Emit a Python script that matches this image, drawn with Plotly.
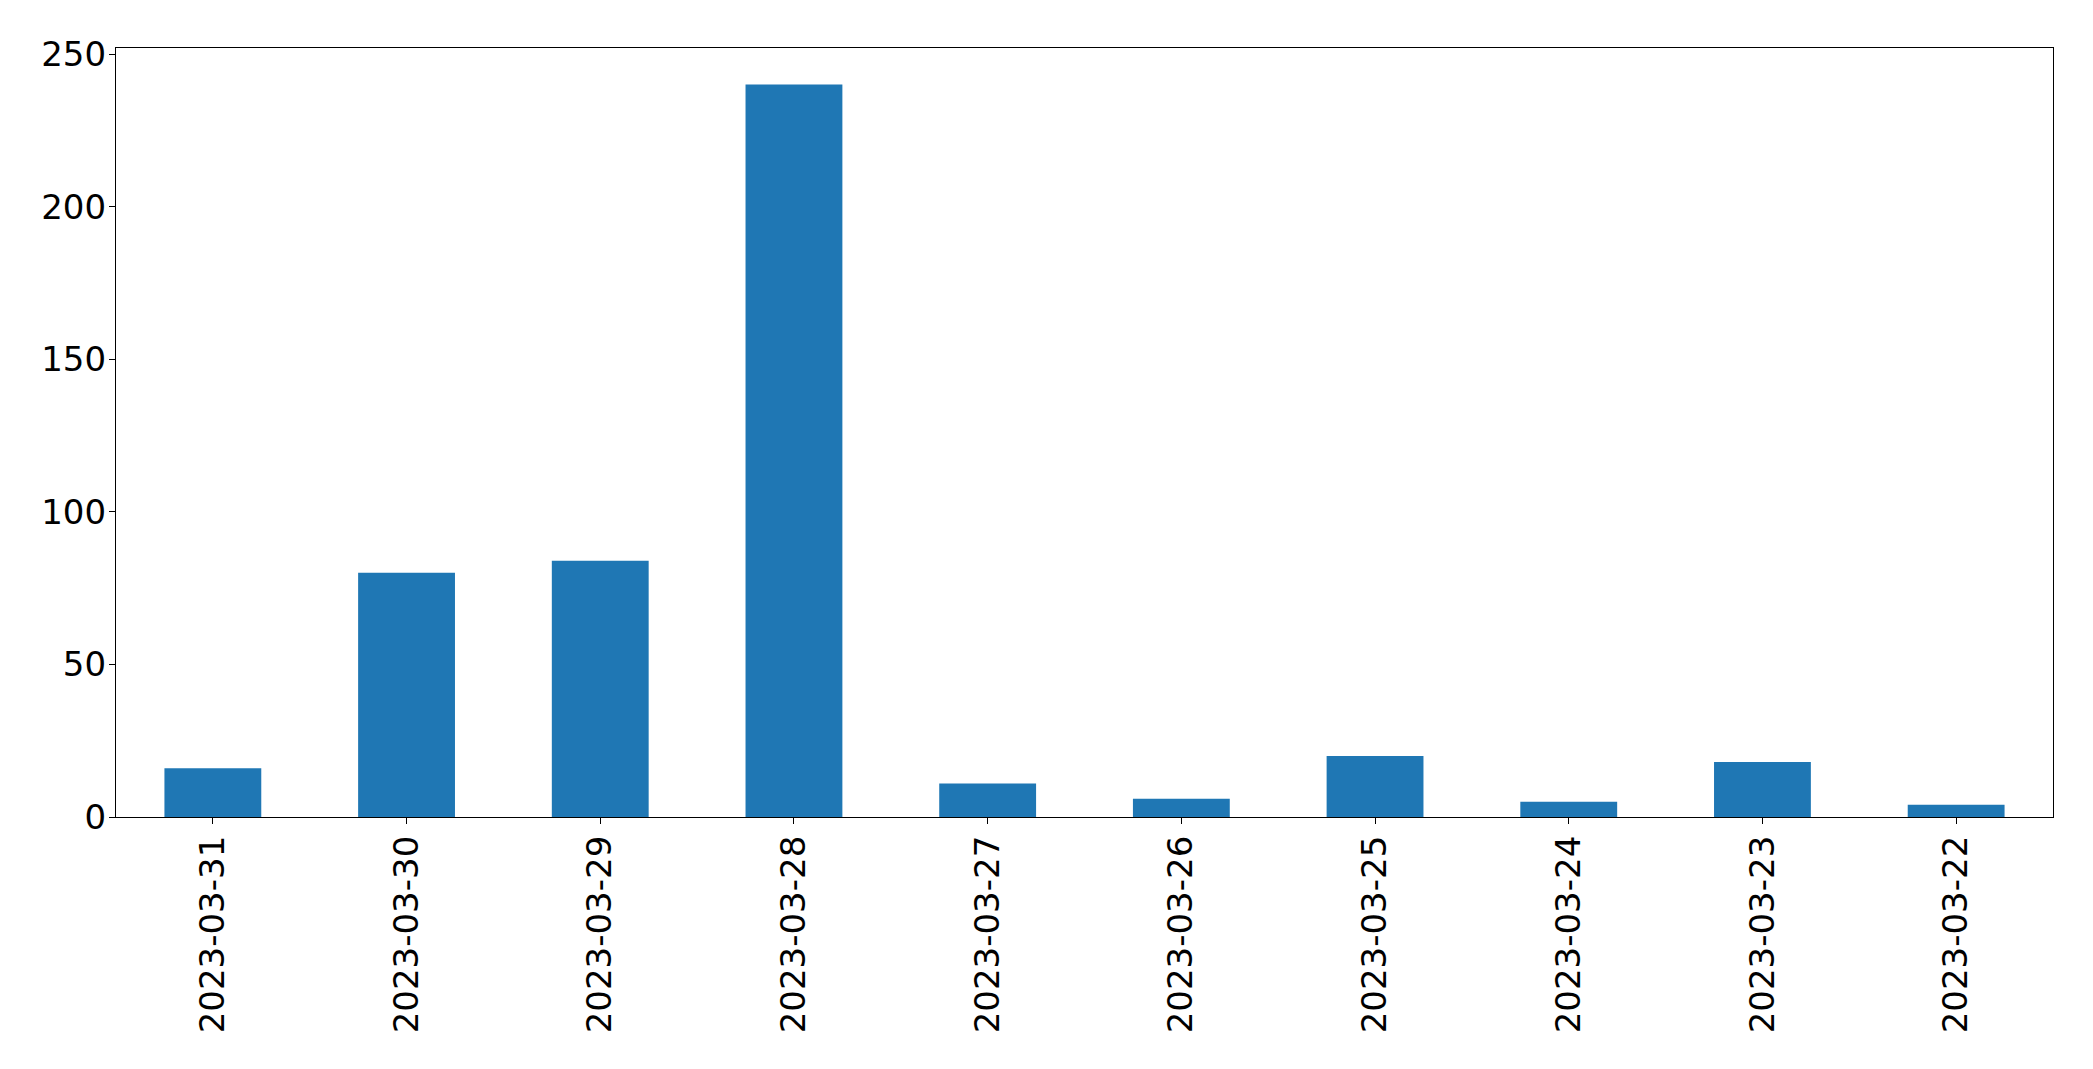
import plotly.graph_objects as go

dates = ["2023-03-31", "2023-03-30", "2023-03-29", "2023-03-28", "2023-03-27",
         "2023-03-26", "2023-03-25", "2023-03-24", "2023-03-23", "2023-03-22"]
counts = [16, 80, 84, 240, 11, 6, 20, 5, 18, 4]
y_ticks = [0, 50, 100, 150, 200, 250]

fig = go.Figure(go.Bar(
    x=list(range(len(dates))), y=counts, width=0.5,
    marker=dict(color="#1f77b4", line=dict(width=0)),
))

font = dict(family="DejaVu Sans", size=34, color="black")
fig.update_layout(
    width=2077, height=1053, autosize=False,
    margin=dict(l=108, r=32, t=40, b=244),
    paper_bgcolor="white", plot_bgcolor="white",
    showlegend=False, font=font,
)
fig.update_xaxes(
    range=[-0.5, len(dates) - 0.5],
    tickmode="array", tickvals=list(range(len(dates))), ticktext=dates,
    tickangle=-90, ticks="outside", ticklen=6, tickcolor="black", tickwidth=1.3,
    showline=True, linecolor="black", linewidth=1.3, mirror=True,
    showgrid=False, zeroline=False, tickfont=font, ticklabelstandoff=-2,
)
fig.update_yaxes(
    range=[0, 252], tickmode="array", tickvals=y_ticks,
    ticks="outside", ticklen=6, tickcolor="black", tickwidth=1.3,
    showline=True, linecolor="black", linewidth=1.3, mirror=True,
    showgrid=False, zeroline=False, tickfont=font, ticklabelstandoff=-4,
)
fig.write_html("out.html")
